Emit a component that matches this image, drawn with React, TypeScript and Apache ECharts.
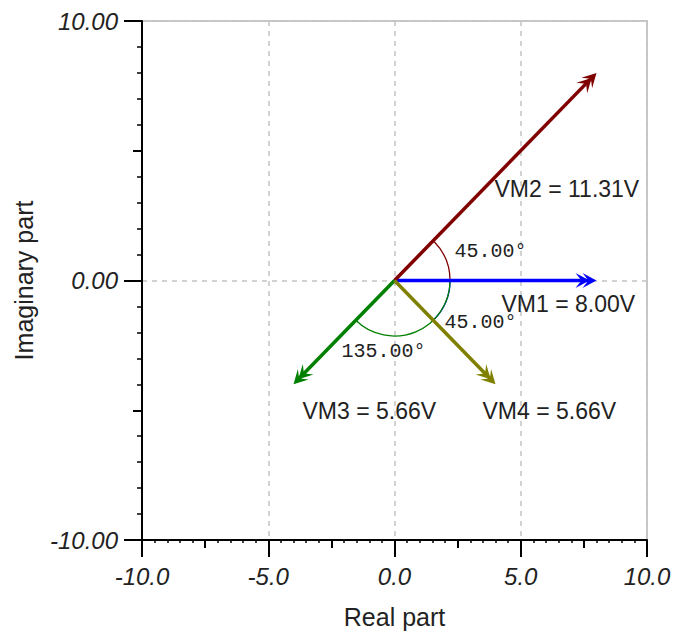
import React, { useEffect, useRef } from "react";
import * as echarts from "echarts";

// ---- data ----
const vectorNames = ["VM1", "VM2", "VM3", "VM4"];
const vectorRe = [8, 8, -4, 4];
const vectorIm = [0, 8, -4, -4];
const vectorMagnitudes = ["8.00", "11.31", "5.66", "5.66"];

// angle arcs: [from angle (deg), to angle (deg)], drawn in this order
const arcFromDeg = [0, 0, 0];
const arcToDeg = [45, -45, -135];
const arcLabels = ["45.00°", "45.00°", "135.00°"];
const arcRadius = 2.2;

const xTickValues = [-10, -5, 0, 5, 10];
const yTickValues = [-10, 0, 10];

// ---- styles ----
const vectorColors = ["#0000ff", "#800000", "#008000", "#808000"];
const vectorLabelOffsets = [
  [-95, 23],
  [-102, 116],
  [9, 27],
  [-13, 27],
];
const arcColors = ["#800000", "#0000ff", "#008000"];
const arcLabelOffsets = [
  [60, -29],
  [50, 42],
  [-53, 71],
];
const textColor = "#222";

export default function App() {
  const ref = useRef<HTMLDivElement>(null);

  useEffect(() => {
    if (!ref.current) return;
    const chart = echarts.init(ref.current, undefined, { renderer: "svg" });

    const axisLine = { show: true, onZero: false, lineStyle: { color: "#000", width: 2 } };
    const labelFont = {
      fontFamily: "Liberation Sans",
      fontStyle: "italic" as const,
      fontSize: 24,
      color: textColor,
    };
    const splitLine = {
      show: true,
      lineStyle: { color: "#c4c4c4", width: 1.5, type: [5, 5] as any },
    };

    const option: any = {
      animation: false,
      backgroundColor: "#fff",
      grid: {
        left: 142,
        right: 39,
        top: 21,
        bottom: 93,
        show: true,
        borderColor: "#c8c8c8",
        borderWidth: 2,
      },
      xAxis: [
        {
          type: "value",
          min: -10,
          max: 10,
          interval: 5,
          position: "bottom",
          axisLine,
          axisTick: { show: true, length: 17, lineStyle: { color: "#000", width: 2 } },
          axisLabel: {
            ...labelFont,
            margin: 24,
            formatter: (v: number) => (xTickValues.includes(v) ? v.toFixed(1) : ""),
          },
          splitLine,
          name: "Real part",
          nameLocation: "middle",
          nameGap: 64,
          nameTextStyle: { fontFamily: "Liberation Sans", fontSize: 25, color: textColor },
        },
        {
          type: "value",
          min: -10,
          max: 10,
          interval: 2.5,
          position: "bottom",
          axisLine: { show: false, onZero: false },
          axisTick: { show: true, length: 8, lineStyle: { color: "#000", width: 2 } },
          minorTick: { show: true, splitNumber: 5, length: 3, lineStyle: { color: "#000", width: 1.5 } },
          axisLabel: { show: false },
          splitLine: { show: false },
        },
      ],
      yAxis: [
        {
          type: "value",
          min: -10,
          max: 10,
          interval: 10,
          position: "left",
          axisLine,
          axisTick: { show: true, length: 18, lineStyle: { color: "#000", width: 2 } },
          axisLabel: {
            ...labelFont,
            margin: 24,
            formatter: (v: number) => (yTickValues.includes(v) ? v.toFixed(2) : ""),
          },
          splitLine,
          name: "Imaginary part",
          nameLocation: "middle",
          nameGap: 106,
          nameTextStyle: { fontFamily: "Liberation Sans", fontSize: 25, color: textColor },
        },
        {
          type: "value",
          min: -10,
          max: 10,
          interval: 5,
          position: "left",
          axisLine: { show: false, onZero: false },
          axisTick: { show: true, length: 9, lineStyle: { color: "#000", width: 2 } },
          minorTick: { show: true, splitNumber: 5, length: 5, lineStyle: { color: "#000", width: 1.5 } },
          axisLabel: { show: false },
          splitLine: { show: false },
        },
      ],
      series: [
        {
          type: "custom",
          name: "arcs",
          coordinateSystem: "cartesian2d",
          xAxisIndex: 0,
          yAxisIndex: 0,
          z: 3,
          data: arcFromDeg.map((a, i) => [a, arcToDeg[i]]),
          renderItem: (params: any, api: any) => {
            const i = params.dataIndex;
            const a1 = api.value(0) as number;
            const a2 = api.value(1) as number;
            const o = api.coord([0, 0]);
            const r = api.size([arcRadius, 0])[0];
            const start = (-Math.max(a1, a2) * Math.PI) / 180;
            const end = (-Math.min(a1, a2) * Math.PI) / 180;
            return {
              type: "group",
              children: [
                {
                  type: "arc",
                  shape: { cx: o[0], cy: o[1], r, startAngle: start, endAngle: end, clockwise: true },
                  style: { stroke: arcColors[i], lineWidth: 1.3, fill: "none" },
                },
                {
                  type: "text",
                  x: o[0] + arcLabelOffsets[i][0],
                  y: o[1] + arcLabelOffsets[i][1],
                  style: {
                    text: arcLabels[i],
                    fill: textColor,
                    fontFamily: "Liberation Mono",
                    fontSize: 20,
                    align: "left",
                    verticalAlign: "middle",
                  },
                },
              ],
            };
          },
        },
        {
          type: "custom",
          name: "vectors",
          coordinateSystem: "cartesian2d",
          xAxisIndex: 0,
          yAxisIndex: 0,
          z: 4,
          data: vectorRe.map((re, i) => [re, vectorIm[i]]),
          renderItem: (params: any, api: any) => {
            const i = params.dataIndex;
            const p0 = api.coord([0, 0]);
            const p1 = api.coord([api.value(0), api.value(1)]);
            const dx = p1[0] - p0[0];
            const dy = p1[1] - p0[1];
            const len = Math.sqrt(dx * dx + dy * dy);
            const ux = dx / len;
            const uy = dy / len;
            const nx = -uy;
            const ny = ux;
            const color = vectorColors[i];
            const head = (back: number) => {
              const tx = p1[0] - ux * back;
              const ty = p1[1] - uy * back;
              const L = 14;
              const W = 7.5;
              const N = 8;
              return [
                [tx, ty],
                [tx - ux * L + nx * W, ty - uy * L + ny * W],
                [tx - ux * N, ty - uy * N],
                [tx - ux * L - nx * W, ty - uy * L - ny * W],
              ];
            };
            return {
              type: "group",
              children: [
                {
                  type: "line",
                  shape: { x1: p0[0], y1: p0[1], x2: p1[0] - ux * 8, y2: p1[1] - uy * 8 },
                  style: { stroke: color, lineWidth: 3.5 },
                },
                { type: "polygon", shape: { points: head(0) }, style: { fill: color } },
                { type: "polygon", shape: { points: head(7) }, style: { fill: color } },
                {
                  type: "text",
                  x: p1[0] + vectorLabelOffsets[i][0],
                  y: p1[1] + vectorLabelOffsets[i][1],
                  style: {
                    text: `${vectorNames[i]} = ${vectorMagnitudes[i]}V`,
                    fill: textColor,
                    fontFamily: "Liberation Sans",
                    fontSize: 23,
                    align: "left",
                    verticalAlign: "middle",
                  },
                },
              ],
            };
          },
        },
      ],
    };

    chart.setOption(option);
    return () => chart.dispose();
  }, []);

  return (
    <div
      ref={ref}
      style={{ position: "fixed", left: 0, top: 0, width: 686, height: 634, background: "#fff" }}
    />
  );
}
